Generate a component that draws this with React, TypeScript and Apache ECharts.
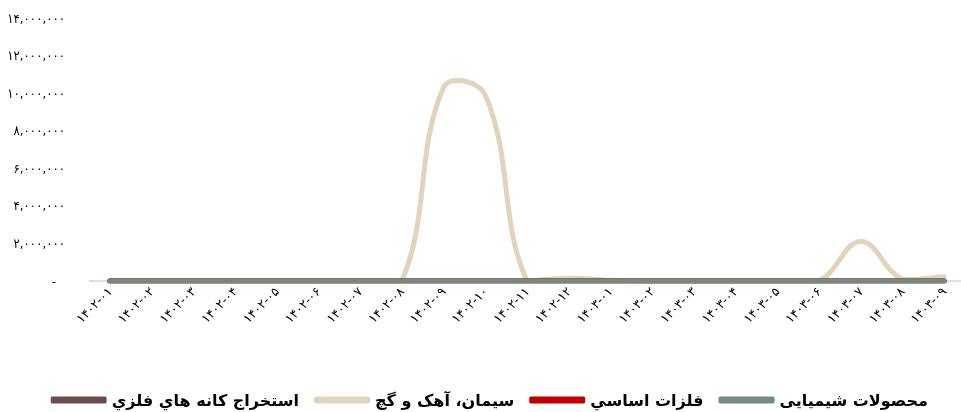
import React, { useEffect, useRef } from "react";
import * as echarts from "echarts";

const categories = [
  "1402-01", "1402-02", "1402-03", "1402-04", "1402-05", "1402-06", "1402-07",
  "1402-08", "1402-09", "1402-10", "1402-11", "1402-12",
  "1403-01", "1403-02", "1403-03", "1403-04", "1403-05", "1403-06", "1403-07",
  "1403-08", "1403-09",
];

const seriesNames = [
  "استخراج کانه هاي فلزي",
  "سیمان، آهک و گچ",
  "فلزات اساسي",
  "محصولات شیمیایی",
];

const metalMining = [0, 0, 0, 0, 0, 0, 0, 0, 0, 0, 0, 0, 0, 0, 0, 0, 0, 0, 0, 0, 0];
const cement = [0, 0, 0, 0, 0, 0, 0, 0, 10300000, 9900000, 0, 150000, 40000, 0, 0, 0, 0, 0, 2100000, 100000, 230000];
const basicMetals = [0, 0, 0, 0, 0, 0, 0, 0, 0, 0, 0, 0, 0, 0, 0, 0, 0, 0, 0, 0, 0];
const chemicals = [0, 0, 0, 0, 0, 0, 0, 0, 0, 0, 0, 0, 0, 0, 0, 0, 0, 0, 0, 0, 0];

const colors = ["#6b4c50", "#e2d3bb", "#c00000", "#738a7f"];

const fa = (s: string) => s.replace(/[0-9]/g, (d) => "۰۱۲۳۴۵۶۷۸۹"[Number(d)]);

// cardinal spline (tension 0.4) through pixel points, control points capped to the plot area
function splinePath(pts: number[][], top: number, bottom: number) {
  const t = 0.4;
  const n = pts.length;
  const cps: { p: number[]; n: number[] }[] = [];
  for (let i = 0; i < n; i++) {
    const prev = pts[Math.max(0, i - 1)];
    const cur = pts[i];
    const next = pts[Math.min(n - 1, i + 1)];
    const d01 = Math.hypot(cur[0] - prev[0], cur[1] - prev[1]);
    const d12 = Math.hypot(next[0] - cur[0], next[1] - cur[1]);
    let s01 = d01 / (d01 + d12);
    let s12 = d12 / (d01 + d12);
    if (!isFinite(s01)) s01 = 0;
    if (!isFinite(s12)) s12 = 0;
    const fa1 = t * s01;
    const fb1 = t * s12;
    const clampY = (y: number) => Math.min(bottom, Math.max(top, y));
    cps.push({
      p: [cur[0] - fa1 * (next[0] - prev[0]), clampY(cur[1] - fa1 * (next[1] - prev[1]))],
      n: [cur[0] + fb1 * (next[0] - prev[0]), clampY(cur[1] + fb1 * (next[1] - prev[1]))],
    });
  }
  let d = `M${pts[0][0]},${pts[0][1]}`;
  for (let i = 1; i < n; i++) {
    const a = cps[i - 1].n;
    const b = cps[i].p;
    d += ` C${a[0]},${a[1]} ${b[0]},${b[1]} ${pts[i][0]},${pts[i][1]}`;
  }
  return d;
}

export default function App() {
  const ref = useRef<HTMLDivElement>(null);
  useEffect(() => {
    if (!ref.current) return;
    const chart = echarts.init(ref.current, null, { renderer: "svg" });
    const font = "DejaVu Sans";
    const condensed = "'DejaVu Sans Condensed', 'DejaVu Sans'";
    const lineSeries = (i: number, data: number[]) => ({
      name: seriesNames[i],
      type: "line",
      data,
      smooth: 0.4,
      showSymbol: false,
      symbol: "none",
      lineStyle: { width: 5, color: colors[i], cap: "round" },
      itemStyle: { color: colors[i] },
    });
    chart.setOption({
      animation: false,
      textStyle: { fontFamily: font },
      grid: {
        left: 89,
        right: -4,
        top: 18,
        bottom: 131,
        containLabel: false,
        outerBoundsMode: "none",
      },
      legend: {
        data: seriesNames,
        right: 28,
        top: 387,
        itemWidth: 56,
        itemHeight: 7,
        itemGap: 15,
        icon: "roundRect",
        textStyle: { fontFamily: font, fontSize: 16, fontWeight: "bold", color: "#000" },
      },
      xAxis: {
        type: "category",
        data: categories,
        boundaryGap: true,
        axisLine: { lineStyle: { color: "#d6d6d6", width: 1.5 } },
        axisTick: { show: false },
        axisLabel: {
          rotate: 45,
          interval: 0,
          margin: 8,
          fontSize: 12.5,
          color: "#000",
          fontFamily: font,
          formatter: (v: string) => fa(v),
        },
      },
      yAxis: {
        type: "value",
        min: 0,
        max: 14000000,
        interval: 2000000,
        axisLine: { show: false },
        axisTick: { show: false },
        splitLine: { show: false },
        axisLabel: {
          margin: 24,
          fontSize: 13,
          color: "#000",
          fontFamily: condensed,
          formatter: (v: number) => (v === 0 ? "{z|-}" : fa(v.toLocaleString("en-US"))),
          rich: {
            z: { fontSize: 13, fontFamily: condensed, color: "#000", padding: [0, 9, 0, 0] },
          },
        },
      },
      series: [
        lineSeries(0, metalMining),
        {
          name: seriesNames[1],
          type: "custom",
          coordinateSystem: "cartesian2d",
          data: cement.map((v, i) => [i, v]),
          encode: { x: 0, y: 1 },
          itemStyle: { color: colors[1] },
          renderItem: (params: any, api: any) => {
            if (params.dataIndex !== 0) return { type: "group", children: [] };
            const pts = cement.map((v, i) => api.coord([i, v]));
            const top = api.coord([0, 14000000])[1];
            const bottom = api.coord([0, 0])[1];
            return {
              type: "path",
              shape: { pathData: splinePath(pts, top, bottom) },
              style: {
                fill: "none",
                stroke: colors[1],
                lineWidth: 5,
                lineCap: "round",
                lineJoin: "round",
              },
            };
          },
        },
        lineSeries(2, basicMetals),
        lineSeries(3, chemicals),
      ],
    });
    return () => chart.dispose();
  }, []);
  return (
    <div
      ref={ref}
      style={{ position: "fixed", left: 0, top: 0, width: 961, height: 412 }}
    />
  );
}
